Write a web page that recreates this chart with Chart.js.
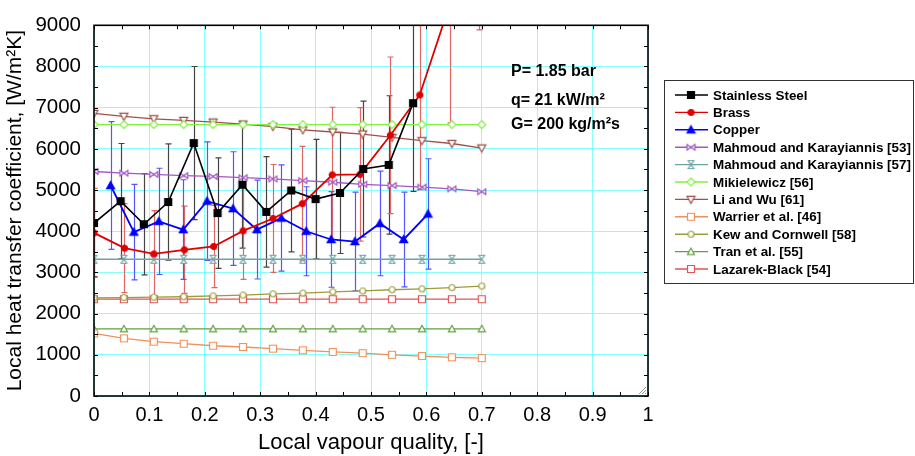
<!DOCTYPE html>
<html>
<head>
<meta charset="utf-8">
<script src="https://cdn.jsdelivr.net/npm/chart.js@4.4.1/dist/chart.umd.min.js"></script>
<style>
html, body { margin: 0; padding: 0; background: #fff; }
</style>
</head>
<body>
<canvas id="myChart" width="915" height="456"></canvas>
<script>
// experimental data (vapour quality, h, error)
var ssX = [0, 0.048, 0.09, 0.134, 0.18, 0.223, 0.268, 0.311, 0.356, 0.4, 0.444, 0.486, 0.532, 0.576];
var ssY = [4200, 4730, 4170, 4710, 6140, 4440, 5130, 4470, 4990, 4780, 4930, 5510, 5610, 7110];
var ssErr = [1300, 1400, 1230, 1410, 1860, 1340, 1540, 1340, 1490, 1450, 1470, 1650, 1680, 2140];

var brassX = [0, 0.055, 0.108, 0.163, 0.216, 0.269, 0.323, 0.376, 0.43, 0.48, 0.535, 0.588, 0.642, 0.695];
var brassY = [3960, 3590, 3450, 3550, 3630, 4010, 4310, 4670, 5370, 5380, 6330, 7310, 9500, 12000];
var brassErr = [1080, 1080, 1050, 1060, 1000, 1180, 1310, 1390, 1640, 1620, 1900, 2300, 2870, 3110];

var cuX = [0.03, 0.072, 0.117, 0.161, 0.204, 0.251, 0.294, 0.338, 0.383, 0.428, 0.471, 0.516, 0.559, 0.603];
var cuY = [5110, 3980, 4240, 4040, 4730, 4550, 4040, 4320, 4000, 3800, 3750, 4190, 3800, 4420];
var cuErr = [1550, 1160, 1290, 1210, 1440, 1380, 1200, 1290, 1080, 1160, 1200, 1270, 1150, 1340];

// correlations
var corrX = [0, 0.054, 0.108, 0.162, 0.215, 0.269, 0.323, 0.377, 0.431, 0.485, 0.538, 0.592, 0.646, 0.7];
var mk53 = [5450, 5410, 5380, 5350, 5330, 5300, 5270, 5230, 5190, 5140, 5110, 5070, 5030, 4960];
var mk57 = [3320, 3320, 3320, 3320, 3320, 3320, 3320, 3320, 3320, 3320, 3320, 3320, 3320, 3320];
var mik = [6590, 6590, 6590, 6590, 6590, 6590, 6590, 6590, 6590, 6590, 6590, 6590, 6590, 6590];
var liwu = [6860, 6790, 6730, 6690, 6650, 6600, 6540, 6460, 6410, 6360, 6280, 6200, 6130, 6020];
var warrier = [1520, 1400, 1320, 1270, 1220, 1190, 1150, 1110, 1070, 1040, 1000, 970, 940, 920];
var kew = [2380, 2390, 2400, 2410, 2430, 2450, 2480, 2500, 2530, 2550, 2580, 2600, 2630, 2670];
var tran = [1630, 1630, 1630, 1630, 1630, 1630, 1630, 1630, 1630, 1630, 1630, 1630, 1630, 1630];
var lazarek = [2350, 2350, 2350, 2350, 2350, 2350, 2350, 2350, 2350, 2350, 2350, 2350, 2350, 2350];

var xTicks = [0, 0.1, 0.2, 0.3, 0.4, 0.5, 0.6, 0.7, 0.8, 0.9, 1];
var yTicks = [0, 1000, 2000, 3000, 4000, 5000, 6000, 7000, 8000, 9000];

var FONT = '"Liberation Sans", Arial, sans-serif';

// small canvases used as point styles
function marker(shape, color, filled, size) {
    var c = document.createElement('canvas');
    c.width = size + 3; c.height = size + 3;
    var g = c.getContext('2d');
    var m = c.width / 2, r = size / 2;
    g.strokeStyle = color;
    g.fillStyle = filled ? color : '#fff';
    g.lineWidth = 1.2;
    g.beginPath();
    if (shape == 'square') g.rect(m - r, m - r, size, size);
    else if (shape == 'circle') g.arc(m, m, r, 0, Math.PI * 2);
    else if (shape == 'triUp') { g.moveTo(m, m - r); g.lineTo(m + r, m + r * 0.8); g.lineTo(m - r, m + r * 0.8); g.closePath(); }
    else if (shape == 'triDown') { g.moveTo(m, m + r); g.lineTo(m + r, m - r * 0.8); g.lineTo(m - r, m - r * 0.8); g.closePath(); }
    else if (shape == 'diamond') { g.moveTo(m, m - r); g.lineTo(m + r, m); g.lineTo(m, m + r); g.lineTo(m - r, m); g.closePath(); }
    else if (shape == 'bowtie') { g.moveTo(m - r, m - r * 0.7); g.lineTo(m + r, m + r * 0.7); g.lineTo(m + r, m - r * 0.7); g.lineTo(m - r, m + r * 0.7); g.closePath(); }
    else if (shape == 'hourglass') { g.moveTo(m - r * 0.7, m - r); g.lineTo(m + r * 0.7, m - r); g.lineTo(m - r * 0.7, m + r); g.lineTo(m + r * 0.7, m + r); g.closePath(); }
    g.fill();
    g.stroke();
    return c;
}

function pts(xs, ys) {
    return xs.map(function (x, i) { return { x: x, y: ys[i] }; });
}

function series(label, xs, ys, color, style, width) {
    return {
        label: label,
        data: pts(xs, ys),
        borderColor: color,
        backgroundColor: color,
        borderWidth: width || 1.3,
        pointStyle: style,
        pointRadius: 4,
        tension: 0,
        fill: false
    };
}

var datasets = [
    series('Stainless Steel', ssX, ssY, '#000000', marker('square', '#000', true, 7), 1.6),
    series('Brass', brassX, brassY, '#e00000', marker('circle', '#e00000', true, 6), 1.8),
    series('Copper', cuX, cuY, '#0000ff', marker('triUp', '#0000ff', true, 8), 1.8),
    series('Mahmoud and Karayiannis [53]', corrX, mk53, '#a058c0', marker('bowtie', '#a058c0', false, 8)),
    series('Mahmoud and Karayiannis [57]', corrX, mk57, '#6aa5a5', marker('hourglass', '#6aa5a5', false, 8)),
    series('Mikielewicz [56]', corrX, mik, '#80f040', marker('diamond', '#80f040', false, 8)),
    series('Li and Wu [61]', corrX, liwu, '#a0504a', marker('triDown', '#a0504a', false, 8)),
    series('Warrier et al. [46]', corrX, warrier, '#f0905a', marker('square', '#f0905a', false, 7)),
    series('Kew and Cornwell [58]', corrX, kew, '#9c9c3c', marker('circle', '#9c9c3c', false, 6)),
    series('Tran et al. [55]', corrX, tran, '#60a040', marker('triUp', '#60a040', false, 7)),
    series('Lazarek-Black [54]', corrX, lazarek, '#e05555', marker('square', '#e05555', false, 7))
];
datasets[0].errors = ssErr; datasets[0].errorColor = '#444444';
datasets[1].errors = brassErr; datasets[1].errorColor = '#e06666';
datasets[2].errors = cuErr; datasets[2].errorColor = '#5555ff';

var errorBars = {
    id: 'errorBars',
    beforeDatasetsDraw: function (chart) {
        var ctx = chart.ctx, a = chart.chartArea;
        var xs = chart.scales.x, ys = chart.scales.y;
        ctx.save();
        ctx.beginPath();
        ctx.rect(a.left, a.top, a.right - a.left, a.bottom - a.top);
        ctx.clip();
        chart.data.datasets.forEach(function (ds) {
            if (!ds.errors) return;
            ctx.strokeStyle = ds.errorColor;
            ctx.lineWidth = 1.2;
            ds.data.forEach(function (p, i) {
                var e = ds.errors[i];
                var px = Math.round(xs.getPixelForValue(p.x)) + 0.5;
                var t = ys.getPixelForValue(p.y + e), b = ys.getPixelForValue(p.y - e);
                ctx.beginPath();
                ctx.moveTo(px, t); ctx.lineTo(px, b);
                ctx.moveTo(px - 3, t); ctx.lineTo(px + 3, t);
                ctx.moveTo(px - 3, b); ctx.lineTo(px + 3, b);
                ctx.stroke();
            });
        });
        ctx.restore();
    }
};

var frame = {
    id: 'frame',
    afterDatasetsDraw: function (chart) {
        var ctx = chart.ctx, a = chart.chartArea;
        var xs = chart.scales.x, ys = chart.scales.y;
        ctx.save();
        ctx.strokeStyle = '#000';
        ctx.lineWidth = 1;
        ctx.beginPath();
        // inner minor ticks
        for (var v = 0; v <= 1.0001; v += 0.05) {
            var px = Math.round(xs.getPixelForValue(v)) + 0.5;
            ctx.moveTo(px, a.bottom); ctx.lineTo(px, a.bottom - 4);
            ctx.moveTo(px, a.top); ctx.lineTo(px, a.top + 4);
        }
        for (var w = 0; w <= 9000; w += 500) {
            var py = Math.round(ys.getPixelForValue(w)) + 0.5;
            ctx.moveTo(a.left, py); ctx.lineTo(a.left + 4, py);
            ctx.moveTo(a.right, py); ctx.lineTo(a.right - 4, py);
        }
        ctx.stroke();
        ctx.lineWidth = 1.6;
        ctx.strokeRect(a.left, a.top, a.right - a.left, a.bottom - a.top);
        // resize grip
        ctx.strokeStyle = '#777';
        ctx.lineWidth = 0.8;
        ctx.beginPath();
        for (var k = 2; k <= 8; k += 3) {
            ctx.moveTo(a.right - 2, a.bottom - k - 1);
            ctx.lineTo(a.right - k - 1, a.bottom - 2);
        }
        ctx.stroke();
        ctx.restore();
    }
};

var notes = {
    id: 'notes',
    afterDraw: function (chart) {
        var ctx = chart.ctx;
        ctx.save();
        ctx.fillStyle = '#000';
        ctx.textBaseline = 'middle';
        ctx.font = 'bold 16px ' + FONT;
        ctx.fillText('P= 1.85 bar', 511, 72);
        ctx.fillText('q= 21 kW/m²', 511, 101);
        ctx.fillText('G= 200 kg/m²s', 511, 125);

        // legend box
        ctx.strokeStyle = '#333';
        ctx.lineWidth = 1;
        ctx.strokeRect(664.5, 80.5, 249, 203);
        ctx.font = 'bold 13.4px ' + FONT;
        chart.data.datasets.forEach(function (ds, i) {
            var y = 95 + i * 17.4;
            ctx.strokeStyle = ds.borderColor;
            ctx.lineWidth = 1.4;
            ctx.beginPath();
            ctx.moveTo(675, y); ctx.lineTo(708, y);
            ctx.stroke();
            ctx.drawImage(ds.pointStyle, 691 - ds.pointStyle.width / 2, y - ds.pointStyle.height / 2);
            ctx.fillStyle = '#000';
            ctx.fillText(ds.label, 713, y + 1);
        });
        ctx.restore();
    }
};

new Chart('myChart', {
    type: 'line',
    data: { datasets: datasets },
    plugins: [errorBars, frame, notes],
    options: {
        responsive: false,
        animation: false,
        events: [],
        layout: { padding: { top: 17, right: 267, left: 0, bottom: 0 } },
        plugins: { legend: { display: false }, tooltip: { enabled: false } },
        scales: {
            x: {
                type: 'linear', min: 0, max: 1,
                afterBuildTicks: function (s) { s.ticks = xTicks.map(function (v) { return { value: v }; }); },
                afterFit: function (s) { s.height = 60; },
                grid: { color: '#88ffff', drawTicks: false },
                border: { display: false },
                ticks: { color: '#000', padding: 7, font: { family: FONT, size: 20 },
                    callback: function (v) { return String(Math.round(v * 10) / 10); } },
                title: { display: true, text: 'Local vapour quality, [-]', color: '#000', padding: 0,
                    font: { family: FONT, size: 22 } }
            },
            y: {
                type: 'linear', min: 0, max: 9000,
                afterBuildTicks: function (s) { s.ticks = yTicks.map(function (v) { return { value: v }; }); },
                afterFit: function (s) { s.width = 94; },
                grid: { color: '#88ffff', drawTicks: false },
                border: { display: false },
                ticks: { color: '#000', padding: 13, font: { family: FONT, size: 20.5 },
                    callback: function (v) { return String(v); } },
                title: { display: true, text: 'Local heat transfer coefficient, [W/m²K]', color: '#000', padding: { top: 3, bottom: 0 },
                    font: { family: FONT, size: 21 } }
            }
        }
    }
});
</script>
</body>
</html>
